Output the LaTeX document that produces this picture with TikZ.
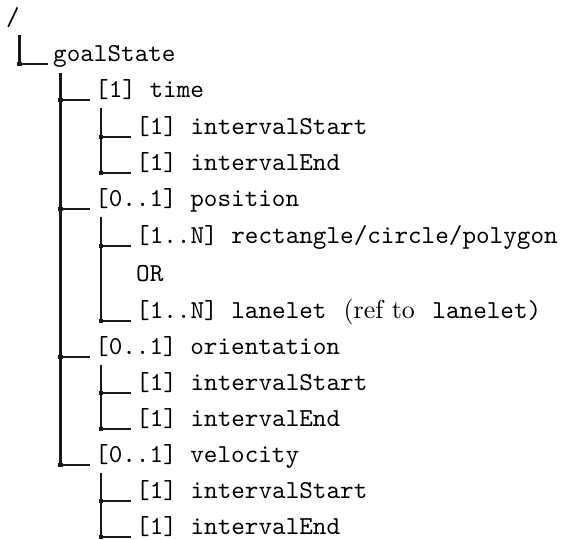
\documentclass[tikz,border=0pt]{standalone}
\usepackage{fontspec}
\setmonofont{lmmono10-regular}[Extension=.otf]
\newfontfamily\romten{lmroman10-regular}[Extension=.otf]
\usetikzlibrary{calc}
\begin{document}
\begin{tikzpicture}[x=1pt,y=-1pt,
  lbl/.style={anchor=base west, inner sep=0pt, font=\fontsize{25.9}{30}\selectfont\ttfamily},
  trunk/.style={line width=3pt, draw=black!90},
  twig/.style={line width=2.2pt, draw=black!90},
  hbar/.style={line width=2.2pt, draw=black!90},
  knot/.style={fill=black!90, draw=none}]
\useasboundingbox (0,0) rectangle (573,540);
\def\knotsize{2.2}
% text nodes
\node[lbl] (root) at (6,26) {/};
\node[lbl] (goal) at (53,61.5) {goalState};
\node[lbl] (time) at (95,97.5) {[1] time};
\node[lbl] (ts) at (136,134.5) {[1] intervalStart};
\node[lbl] (te) at (136,170.5) {[1] intervalEnd};
\node[lbl] (pos) at (95,206.5) {[0..1] position};
\node[lbl] (rect) at (136,243.5) {[1..N] rectangle/circle/polygon};
\node[lbl] (or) at (136,281) {OR};
\node[lbl] (lan) at (136,318.5) {[1..N] lanelet\hspace{17pt}{\romten(ref to}\hspace{4pt} lanelet)};
\node[lbl] (ori) at (95,354.5) {[0..1] orientation};
\node[lbl] (os) at (136,390.5) {[1] intervalStart};
\node[lbl] (oe) at (136,426.5) {[1] intervalEnd};
\node[lbl] (vel) at (95,462.5) {[0..1] velocity};
\node[lbl] (vs) at (136,498.5) {[1] intervalStart};
\node[lbl] (ve) at (136,534.5) {[1] intervalEnd};
% junction coordinates
\coordinate (r0) at (19.5,35);
\coordinate (jg) at (19.5,64);   \coordinate (eg) at (48,64);
\coordinate (g0) at (60.3,73);
\coordinate (jtime) at (60.3,100); \coordinate (etime) at (90,100);
\coordinate (jpos) at (60.3,209);  \coordinate (epos) at (90,209);
\coordinate (jori) at (60.3,357);  \coordinate (eori) at (90,357);
\coordinate (jvel) at (60.3,465);  \coordinate (evel) at (90,465);
\coordinate (t0) at (101,108);
\coordinate (jts) at (101,137); \coordinate (ets) at (131,137);
\coordinate (jte) at (101,173); \coordinate (ete) at (131,173);
\coordinate (p0) at (101,217);
\coordinate (jrect) at (101,246); \coordinate (erect) at (131,246);
\coordinate (jlan) at (101,321);  \coordinate (elan) at (131,321);
\coordinate (o0) at (101,365);
\coordinate (jos) at (101,393); \coordinate (eos) at (131,393);
\coordinate (joe) at (101,429); \coordinate (eoe) at (131,429);
\coordinate (v0) at (101,473);
\coordinate (jvs) at (101,501); \coordinate (evs) at (131,501);
\coordinate (jve) at (101,537); \coordinate (eve) at (131,537);
% verticals
\draw[trunk] (r0) -- (jg);
\draw[trunk] (g0) -- (jvel);
\draw[twig] (t0) -- (jte);
\draw[twig] (p0) -- (jlan);
\draw[twig] (o0) -- (joe);
\draw[twig] (v0) -- (jve);
% horizontals
\foreach \a/\b in {jg/eg, jtime/etime, jpos/epos, jori/eori, jvel/evel,
  jts/ets, jte/ete, jrect/erect, jlan/elan, jos/eos, joe/eoe, jvs/evs, jve/eve}{
  \draw[hbar] (\a) -- (\b);
  \fill[knot] ($(\a)+(-\knotsize,-\knotsize)$) rectangle ($(\a)+(\knotsize,\knotsize)$);
}
\end{tikzpicture}
\end{document}
